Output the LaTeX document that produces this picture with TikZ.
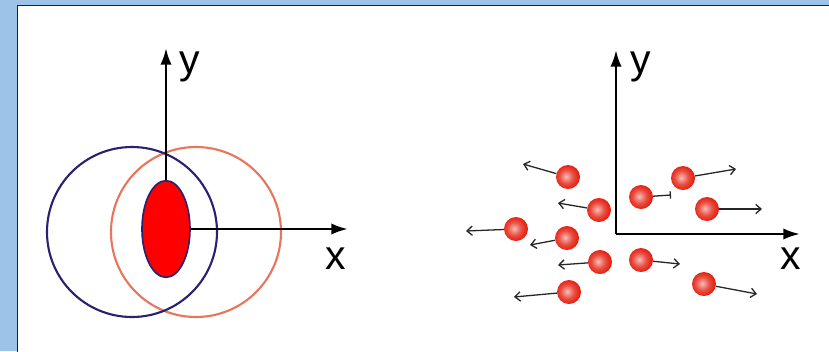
\documentclass[tikz,border=0pt]{standalone}
\usepackage{fontspec}
\setsansfont{Liberation Sans}
\usepackage{tikz}
\usetikzlibrary{positioning, shapes.geometric, arrows.meta}
\definecolor{bgBlue}{HTML}{9DC3E8}
\definecolor{frameNavy}{HTML}{14147A}
\definecolor{ringBlue}{HTML}{2A2170}
\definecolor{ringOrange}{HTML}{E8765C}
\definecolor{coreRed}{HTML}{FF0000}
\definecolor{ballRed}{HTML}{E42516}
\pgfdeclareradialshading{particleglow}{\pgfpoint{-4bp}{1bp}}{%
  color(0bp)=(white!70!ballRed);
  color(14bp)=(ballRed!80!white);
  color(24bp)=(ballRed);
  color(42bp)=(ballRed!85!black);
  color(50bp)=(ballRed!65!black);
  color(100bp)=(ballRed!65!black)}
\tikzset{
  axis/.style={
    -{Latex[length=5mm, width=3.4mm]},
    black, line width=2.2pt
  },
  axislabel/.style={
    inner sep=0pt,
    font=\fontsize{35}{38}\selectfont\sffamily
  },
  ring/.style={
    circle, draw=#1, line width=1.8pt,
    minimum size=5.1cm, inner sep=0pt
  },
  core/.style={
    ellipse, draw=ringBlue, line width=1.4pt,
    fill=coreRed,
    minimum width=1.44cm, minimum height=2.9cm, inner sep=0pt
  },
  particle/.style={
    circle, shading=particleglow,
    minimum size=0.72cm, inner sep=0pt
  },
  velocity/.style={
    -{Straight Barb[length=1.6mm, width=2.8mm]},
    black!85, line width=1.1pt
  }
}

\begin{document}
\begin{tikzpicture}[x=0.03cm, y=-0.03cm]
      \useasboundingbox (0,0) rectangle (829,351);
      % Slide frame
      \fill[bgBlue] (0,0) rectangle (829,351);
      \draw[frameNavy, line width=1.6pt, fill=white] (17.5,5.5) rectangle (845,365);
      % Left: bound state, two overlapping rings and the core
      \node[ring=ringOrange] (ringR) at (196,232) {};
      \node[ring=ringBlue] (ringL) at (132,232) {};
      \node[core] (core) at (166,229) {};
      \coordinate (ly) at (166,48);
      \coordinate (lx) at (348,229);
      \draw[axis] (core.north) -- (ly);
      \draw[axis] (core.east) -- (lx);
      \node[axislabel] (lyl) at (190,67) {y};
      \node[axislabel] (lxl) at (336,259) {x};
      % Right: free particles flying apart
      \coordinate (ro) at (616,234);
      \coordinate (ry) at (616,50);
      \coordinate (rx) at (800,234);
      \draw[axis] (ro) -- (ry);
      \draw[axis] (ro) -- (rx);
      \node[axislabel] (ryl) at (641,67) {y};
      \node[axislabel] (rxl) at (791,259) {x};
      % Particles and their velocities
      \node[particle] (p1) at (568,177) {};
      \node[particle] (p2) at (599,210) {};
      \node[particle] (p3) at (516,229) {};
      \node[particle] (p4) at (567,238) {};
      \node[particle] (p5) at (600,262) {};
      \node[particle] (p6) at (569,292) {};
      \node[particle] (p7) at (641,197) {};
      \node[particle] (p8) at (683,178) {};
      \node[particle] (p9) at (707,209) {};
      \node[particle] (p10) at (641,260) {};
      \node[particle] (p11) at (704,284) {};
      \coordinate (v1) at (523,164);
      \coordinate (v2) at (558,203);
      \coordinate (v3) at (466,231);
      \coordinate (v4) at (530,245);
      \coordinate (v5) at (558,265);
      \coordinate (v6) at (514,297);
      \coordinate (v7) at (671,195);
      \coordinate (v8) at (736,169);
      \coordinate (v9) at (762,209);
      \coordinate (v10) at (680,264);
      \coordinate (v11) at (757,294);
      \draw[velocity] (p1) -- (v1);
      \draw[velocity] (p2) -- (v2);
      \draw[velocity] (p3) -- (v3);
      \draw[velocity] (p4) -- (v4);
      \draw[velocity] (p5) -- (v5);
      \draw[velocity] (p6) -- (v6);
      \draw[velocity, -{Bar[width=2.2mm]}] (p7) -- (v7);
      \draw[velocity] (p8) -- (v8);
      \draw[velocity] (p9) -- (v9);
      \draw[velocity] (p10) -- (v10);
      \draw[velocity] (p11) -- (v11);
\end{tikzpicture}
\end{document}
